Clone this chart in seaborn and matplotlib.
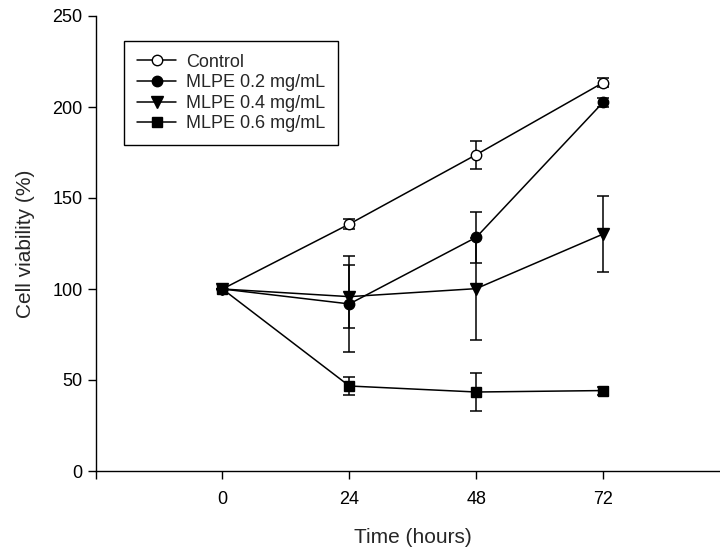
import matplotlib
matplotlib.use("Agg")
import matplotlib.pyplot as plt
import seaborn as sns
import pandas as pd

hours = [0, 24, 48, 72]
series_names = ["Control", "MLPE 0.2 mg/mL", "MLPE 0.4 mg/mL", "MLPE 0.6 mg/mL"]
control = [100, 135.7, 173.8, 213.4]
control_err = [0, 2.6, 7.7, 2.5]
mlpe02 = [100, 91.8, 128.4, 202.6]
mlpe02_err = [0, 26.2, 13.9, 2.5]
mlpe04 = [100, 95.8, 100.2, 130.2]
mlpe04_err = [0, 17.2, 28.0, 21.0]
mlpe06 = [100, 46.7, 43.4, 44.2]
mlpe06_err = [0, 4.8, 10.3, 2.2]
xtick_labels = ["", "0", "24", "48", "72"]

sns.set_style("ticks")
plt.rcParams['font.family'] = ['Liberation Sans', 'DejaVu Sans']

fig = plt.figure(figsize=(7.2, 5.5), dpi=100)
ax = fig.add_axes([95.6 / 720, 1 - 471 / 550, (730 - 95.6) / 720, (471 - 16) / 550])

values = [control, mlpe02, mlpe04, mlpe06]
errors = [control_err, mlpe02_err, mlpe04_err, mlpe06_err]
markers = ["o", "o", "v", "s"]
faces = ["white", "black", "black", "black"]
msizes = [7.5, 7.5, 8, 7]

for name, vals, errs, mk, fc, ms in zip(series_names, values, errors, markers, faces, msizes):
    df = pd.DataFrame({"Time": hours, "Viability": vals})
    ax.errorbar(df["Time"], df["Viability"], yerr=errs, fmt="none", ecolor="black",
                elinewidth=1.1, capsize=4.5, capthick=1.1, zorder=2)
    sns.lineplot(data=df, x="Time", y="Viability", ax=ax, color="black", linewidth=1.1,
                 marker=mk, markersize=ms, markerfacecolor=fc, markeredgecolor="black",
                 markeredgewidth=1.0, label=name, zorder=3)

ax.set_xlim(-24, 96)
ax.set_ylim(0, 250)
ax.set_xticks([-24, 0, 24, 48, 72])
ax.set_xticklabels(xtick_labels)
ax.set_yticks([0, 50, 100, 150, 200, 250])
ax.tick_params(axis="both", labelsize=13, direction="out", length=6, width=1, colors="black")
ax.tick_params(axis="x", pad=8.5)
ax.set_xlabel("Time (hours)", fontsize=15, labelpad=14.5)
ax.set_ylabel("Cell viability (%)", fontsize=15, labelpad=12)
for s in ["top", "right"]:
    ax.spines[s].set_visible(False)
for s in ["left", "bottom"]:
    ax.spines[s].set_color("black")
    ax.spines[s].set_linewidth(1.0)

leg = ax.legend(loc="upper left", bbox_to_anchor=(124 / 720, 1 - 41 / 550),
                bbox_transform=fig.transFigure, fontsize=13, frameon=True, fancybox=False,
                edgecolor="black", framealpha=1, handlelength=2.2, handletextpad=0.55,
                labelspacing=0.2, borderpad=0.7, borderaxespad=0)
leg.get_frame().set_linewidth(1.0)

fig.savefig("out.png", dpi=100)
